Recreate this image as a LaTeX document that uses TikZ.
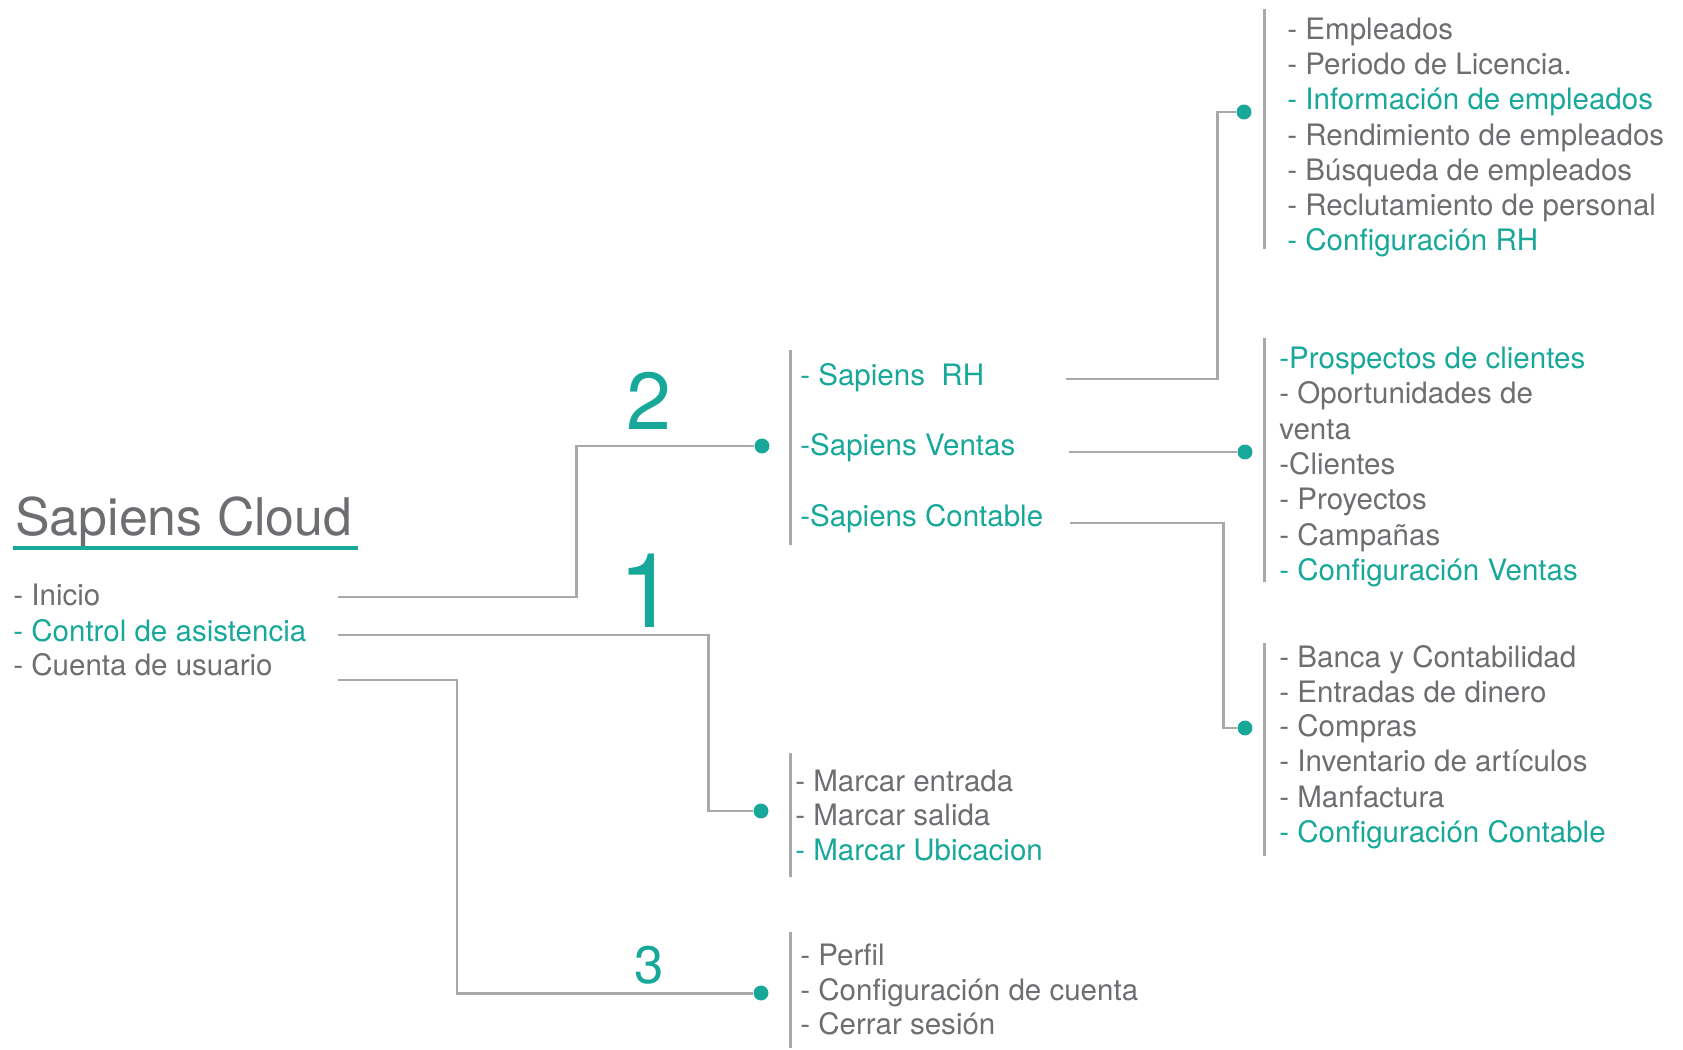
\documentclass[tikz,border=0pt]{standalone}
\usepackage{fontspec}
\setmainfont{TeX Gyre Heros}
\definecolor{sapteal}{HTML}{17A89A}
\definecolor{txtgray}{HTML}{6D6E71}
\definecolor{linegray}{HTML}{A8A9AC}

\begin{document}
\begin{tikzpicture}[x=0.02cm,y=-0.02cm]

    \tikzset{
      item/.style={anchor=base west, inner sep=0pt, text=txtgray,
        font=\fontsize{16.8}{20}\selectfont, yshift=-1.5},
      hitem/.style={item, text=sapteal},
      title/.style={anchor=base west, inner sep=0pt, text=txtgray,
        font=\fontsize{29.5}{30}\selectfont},
      num/.style={anchor=base, inner sep=0pt, text=sapteal},
      dot/.style={circle, fill=sapteal, inner sep=0pt, minimum size=8.5pt},
      conn/.style={draw=linegray, line width=1.7pt},
      bar/.style={draw=linegray, line width=1.7pt},
    }
    \useasboundingbox (0,0) rectangle (1683,1050);

	% main menu
	\node[title] (cloud) at (15,535) {Sapiens Cloud};
	\draw[sapteal, line width=2.4pt] (13,548)--(358,548);
	\node[item] (inicio) at (13,603) {- Inicio};
	\node[hitem] (control) at (13,639) {- Control de asistencia};
	\node[item] (cuenta) at (13,673) {- Cuenta de usuario};
	\coordinate (inicio-out) at (338,597);
	\coordinate (control-out) at (338,635);
	\coordinate (cuenta-out) at (338,680);

	\node[num, font=\fontsize{46}{46}\selectfont] (n2) at (649,430) {2};
	\node[num, font=\fontsize{59}{59}\selectfont] (n1) at (647,627) {1};
	\node[num, font=\fontsize{30}{30}\selectfont] (n3) at (649,983) {3};

	\node[dot] (dot2) at (762,446) {};
	\node[dot] (dot1) at (761,811) {};
	\node[dot] (dot3) at (761,993) {};

	\draw[conn] (inicio-out) -- ++(238,0) |- (dot2);
	\draw[conn] (control-out) -- ++(370,0) |- (dot1);
	\draw[conn] (cuenta-out) -- ++(119,0) |- (dot3);

	% modulos
	\draw[bar] (790,350)--(790,545);
	\node[hitem] (rh) at (800,383) {- Sapiens~ RH};
	\node[hitem] (ventas) at (800,453) {-Sapiens Ventas};
	\node[hitem] (contable) at (800,524) {-Sapiens Contable};
	\coordinate (rh-out) at (1066,379);
	\coordinate (ventas-out) at (1069,452);
	\coordinate (contable-out) at (1070,523);

	% asistencia
	\draw[bar] (790,753)--(790,877);
	\node[item] (entrada) at (795,789) {- Marcar entrada};
	\node[item] (salida) at (795,823) {- Marcar salida};
	\node[hitem] (ubicacion) at (795,858) {- Marcar Ubicacion};

	% cuenta
	\draw[bar] (790,932)--(790,1048);
	\node[item] (perfil) at (800,963) {- Perfil};
	\node[item] (config) at (800,998) {- Configuración de cuenta};
	\node[item] (cerrar) at (800,1032) {- Cerrar sesión};

	\node[dot] (dotrh) at (1244,112) {};
	\node[dot] (dotven) at (1245,452) {};
	\node[dot] (dotcon) at (1245,728) {};

	\draw[conn] (rh-out) -- ++(151,0) |- (dotrh);
	\draw[conn] (ventas-out) -- (dotven);
	\draw[conn] (contable-out) -- ++(153,0) |- (dotcon);

	% RH
	\draw[bar] (1264,9)--(1264,249);
	\node[item] (rh1) at (1287,37) {- Empleados};
	\node[item] (rh2) at (1287,72) {- Periodo de Licencia.};
	\node[hitem] (rh3) at (1287,107) {- Información de empleados};
	\node[item] (rh4) at (1287,143) {- Rendimiento de empleados};
	\node[item] (rh5) at (1287,178) {- Búsqueda de empleados};
	\node[item] (rh6) at (1287,213) {- Reclutamiento de personal};
	\node[hitem] (rh7) at (1287,248) {- Configuración RH};

	% Ventas
	\draw[bar] (1264,338)--(1264,582);
	\node[hitem] (ven1) at (1279,366) {-Prospectos de clientes};
	\node[item] (ven2) at (1279,401) {- Oportunidades de};
	\node[item] (ven3) at (1279,437) {venta};
	\node[item] (ven4) at (1279,472) {-Clientes};
	\node[item] (ven5) at (1279,507) {- Proyectos};
	\node[item] (ven6) at (1279,543) {- Campañas};
	\node[hitem] (ven7) at (1279,578) {- Configuración Ventas};

	% Contable
	\draw[bar] (1264,643)--(1264,856);
	\node[item] (con1) at (1279,665) {- Banca y Contabilidad};
	\node[item] (con2) at (1279,700) {- Entradas de dinero};
	\node[item] (con3) at (1279,734) {- Compras};
	\node[item] (con4) at (1279,769) {- Inventario de artículos};
	\node[item] (con5) at (1279,805) {- Manfactura};
	\node[hitem] (con6) at (1279,840) {- Configuración Contable};

\end{tikzpicture}
\end{document}
